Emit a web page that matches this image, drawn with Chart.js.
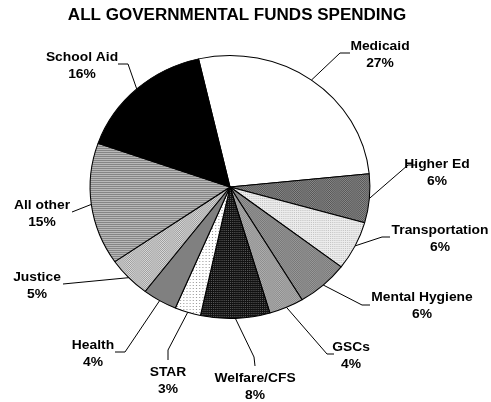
<!DOCTYPE html>
<html>
<head>
<meta charset="utf-8">
<script src="https://cdn.jsdelivr.net/npm/chart.js@4/dist/chart.umd.min.js"></script>
<style>
  html, body { margin: 0; padding: 0; background: #fff; }
  #wrap { width: 491px; height: 402px; position: relative; }
</style>
</head>
<body>
<div id="wrap"><canvas id="pieChart" width="491" height="402"></canvas></div>
<script>
// data, clockwise from top
var categories = ['Medicaid', 'Higher Ed', 'Transportation', 'Mental Hygiene', 'GSCs', 'Welfare/CFS', 'STAR', 'Health', 'Justice', 'All other', 'School Aid'];
var shares = [27, 6, 6, 6, 4, 8, 3, 4, 5, 15, 16];
var shareLabels = ['27%', '6%', '6%', '6%', '4%', '8%', '3%', '4%', '5%', '15%', '16%'];

// small fill patterns like the old print charts
function makePattern(size, draw) {
    var c = document.createElement('canvas');
    c.width = size; c.height = size;
    var g = c.getContext('2d');
    draw(g, size);
    return g.createPattern(c, 'repeat');
}
function checker(a, b) {
    return makePattern(2, function (g) {
        g.fillStyle = a; g.fillRect(0, 0, 2, 2);
        g.fillStyle = b; g.fillRect(0, 0, 1, 1); g.fillRect(1, 1, 1, 1);
    });
}
function dots(bg, fg, step) {
    return makePattern(step, function (g, s) {
        g.fillStyle = bg; g.fillRect(0, 0, s, s);
        g.fillStyle = fg; g.fillRect(0, 0, 1, 1);
    });
}
var hLines = makePattern(2, function (g) {
    g.fillStyle = '#b8b8b8'; g.fillRect(0, 0, 2, 2);
    g.fillStyle = '#858585'; g.fillRect(0, 0, 2, 1);
});

var fills = [
    '#ffffff',                 // Medicaid
    checker('#8a8a8a', '#555555'), // Higher Ed
    dots('#ececec', '#c4c4c4', 2), // Transportation
    checker('#9a9a9a', '#767676'), // Mental Hygiene
    checker('#b0b0b0', '#8c8c8c'), // GSCs
    dots('#111111', '#5a5a5a', 2), // Welfare/CFS
    dots('#ffffff', '#9a9a9a', 3), // STAR
    '#808080',                 // Health
    checker('#dadada', '#9c9c9c'), // Justice
    hLines,                    // All other
    '#000000'                  // School Aid
];

// label layout: text centre and leader line bend points (after the arc point)
var labelPos = [
    { x: 380, y: 46, pts: [[340, 53], [350, 53]] },
    { x: 437, y: 164, pts: [[408, 165], [416, 165]] },
    { x: 440, y: 230, pts: [[382, 237], [390, 237]] },
    { x: 422, y: 297, pts: [[362, 305], [370, 305]] },
    { x: 351, y: 347, pts: [[327, 354], [334, 354]] },
    { x: 255, y: 378, pts: [[254, 357], [255, 366]] },
    { x: 168, y: 372, pts: [[168, 350], [168, 360]] },
    { x: 93, y: 345, pts: [[125, 352], [115, 352]] },
    { x: 37, y: 277, pts: [[63, 284]] },
    { x: 42, y: 205, pts: [[72, 212]] },
    { x: 82, y: 57, pts: [[128, 64], [118, 64]] }
];

var SX = 1.064; // picture is a bit wider than tall

var squash = {
    id: 'squash',
    beforeDatasetsDraw: function (chart) {
        var arc = chart.getDatasetMeta(0).data[0];
        var ctx = chart.ctx;
        ctx.save();
        ctx.translate(arc.x, arc.y);
        ctx.scale(SX, 1);
        ctx.translate(-arc.x, -arc.y);
    },
    afterDatasetsDraw: function (chart) {
        chart.ctx.restore();
    }
};

function wideText(ctx, t, x, y) {
    ctx.save();
    ctx.translate(x, y);
    ctx.scale(SX, 1);
    ctx.fillText(t, 0, 0);
    ctx.restore();
}

var labels = {
    id: 'labels',
    afterDraw: function (chart) {
        var ctx = chart.ctx;
        var meta = chart.getDatasetMeta(0);
        ctx.save();
        ctx.fillStyle = '#000';
        ctx.textAlign = 'center';
        ctx.textBaseline = 'middle';
        ctx.font = 'bold 16px "Liberation Sans", Arial, sans-serif';
        wideText(ctx, 'ALL GOVERNMENTAL FUNDS SPENDING', 237, 16);

        ctx.font = 'bold 13px "Liberation Sans", Arial, sans-serif';
        meta.data.forEach(function (arc, i) {
            var p = labelPos[i];
            var mid = (arc.startAngle + arc.endAngle) / 2;
            var ax = arc.x + Math.cos(mid) * arc.outerRadius * SX;
            var ay = arc.y + Math.sin(mid) * arc.outerRadius;
            ctx.strokeStyle = '#000';
            ctx.lineWidth = 1;
            ctx.beginPath();
            ctx.moveTo(ax, ay);
            p.pts.forEach(function (q) { ctx.lineTo(q[0], q[1]); });
            ctx.stroke();
            wideText(ctx, categories[i], p.x, p.y);
            wideText(ctx, shareLabels[i], p.x, p.y + 17);
        });
        ctx.restore();
    }
};

const ctx = document.getElementById('pieChart').getContext('2d');
const pieChart = new Chart(ctx, {
    type: 'pie',
    data: {
        labels: categories,
        datasets: [{
            data: shares,
            backgroundColor: fills,
            borderColor: '#000',
            borderWidth: 1
        }]
    },
    options: {
        responsive: false,
        animation: false,
        rotation: -13,
        layout: { padding: { top: 55, bottom: 83, left: 98, right: 129 } },
        plugins: {
            legend: { display: false },
            tooltip: { enabled: false },
            title: { display: false }
        }
    },
    plugins: [squash, labels]
});
</script>
</body>
</html>
